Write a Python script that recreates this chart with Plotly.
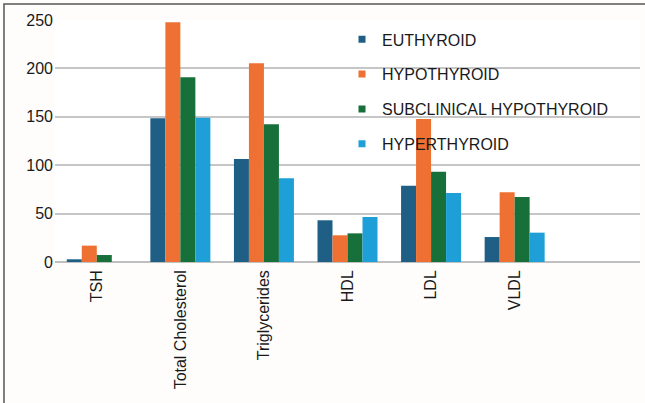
import plotly.graph_objects as go

# Lipid profile and TSH by thyroid status
parameters = ["TSH", "Total Cholesterol", "Triglycerides", "HDL", "LDL", "VLDL"]
euthyroid = [2.8, 148.4, 106.4, 43.1, 78.8, 25.8]
hypothyroid = [16.9, 247.6, 205.3, 27.6, 147.7, 72.0]
subclinical = [7.2, 190.8, 142.2, 29.6, 93.3, 67.1]
hyperthyroid = [0.0, 149.1, 86.5, 46.5, 71.3, 30.3]

group_names = ["EUTHYROID", "HYPOTHYROID", "SUBCLINICAL HYPOTHYROID", "HYPERTHYROID"]
group_colors = ["#1F5F86", "#EE7133", "#17703A", "#1E9FD8"]
series = [euthyroid, hypothyroid, subclinical, hyperthyroid]

FONT = "Liberation Sans, Arial, sans-serif"

fig = go.Figure()
for name, color, vals in zip(group_names, group_colors, series):
    fig.add_trace(go.Bar(
        x=parameters, y=vals, name=name, marker_color=color,
        marker_line_width=0, showlegend=False,
    ))

# small square legend keys
for i, (name, color) in enumerate(zip(group_names, group_colors)):
    fig.add_trace(go.Scatter(
        x=[None], y=[None], mode="markers", name=name,
        marker=dict(symbol="square", size=7, color=color),
        legendgroup=f"g{i}", showlegend=True,
    ))

fig.update_layout(
    width=645, height=403,
    margin=dict(l=55, r=5, t=20, b=141),
    paper_bgcolor="#FEFDFB",
    plot_bgcolor="#FFFFFF",
    barmode="group",
    bargap=0.282,
    bargroupgap=0,
    font=dict(family=FONT, size=16, color="#1A1A1A"),
    legend=dict(
        x=0.4906, y=0.99, xanchor="left", yanchor="top",
        bgcolor="rgba(0,0,0,0)", borderwidth=0,
        font=dict(family=FONT, size=16, color="#1A1A1A"),
        tracegroupgap=11, itemwidth=30,
    ),
    xaxis=dict(
        type="category",
        range=[-0.5, 6.5],
        tickangle=-90,
        showgrid=False,
        showline=False,
        ticks="",
        tickfont=dict(family=FONT, size=16, color="#1A1A1A"),
        ticklabelstandoff=4,
    ),
    yaxis=dict(
        range=[0, 250],
        tickvals=[0, 50, 100, 150, 200, 250],
        showgrid=True, gridcolor="#C6C6C6", gridwidth=1.5,
        zeroline=True, zerolinecolor="#C0C0C0", zerolinewidth=1.5,
        showline=False, ticks="",
        tickfont=dict(family=FONT, size=16, color="#1A1A1A"),
        ticklabelstandoff=1,
    ),
    shapes=[
        dict(type="rect", xref="paper", yref="paper",
             x0=-0.0872, x1=1.2, y0=-0.6, y1=1.066,
             line=dict(color="#555555", width=1.5), fillcolor="rgba(0,0,0,0)",
             layer="above"),
    ],
)

fig.write_html("out.html")
